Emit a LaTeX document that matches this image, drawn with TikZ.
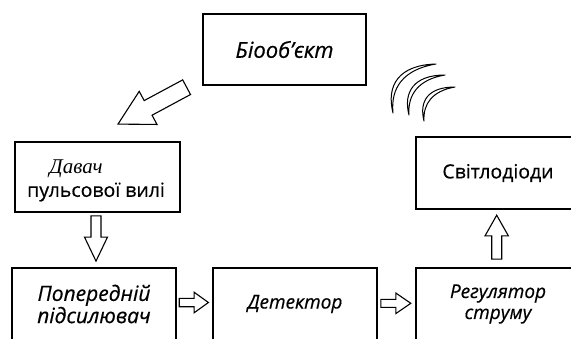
\documentclass[tikz,border=0pt]{standalone}
\usepackage{fontspec}
\setmainfont{Open Sans}[FakeBold=0.5]
\newfontfamily\serifit{Liberation Serif}
\usetikzlibrary{calc}
\tikzset{
  blk/.style={draw, line width=1.8pt, rectangle, inner sep=0pt, align=center,
    font=\itshape\fontsize{19}{21}\selectfont},
  harrow/.style={draw, line width=1.1pt, fill=white, line join=miter},
  wave/.style={draw, line width=1pt, fill=white, line join=round},
  lbl/.style={inner sep=0pt}
}
\newcommand{\hollowarrow}[5]{%
  \coordinate (hS) at (#1);
  \coordinate (hE) at (#2);
  \coordinate (hH) at ($(hE)!#5!(hS)$);
  \draw[harrow] ($(hS)!#3!90:(hE)$) -- ($(hH)!#3!-90:(hS)$) -- ($(hH)!#4!-90:(hS)$)
    -- (hE) -- ($(hH)!#4!90:(hS)$) -- ($(hH)!#3!90:(hS)$) -- ($(hS)!#3!-90:(hE)$) -- cycle;}
\begin{document}
\begin{tikzpicture}[x=1pt,y=-1pt]
\useasboundingbox (0,0) rectangle (571,338);
\clip (0,0) rectangle (571,338);
% boxes
\node[blk, minimum width=163pt, minimum height=71pt, font=\itshape\fontsize{22}{24}\selectfont] (bio) at (284.5,49.5) {Біооб'єкт};
\node[blk, minimum width=165pt, minimum height=70pt] (dav) at (97.5,177) {};
\node[lbl, font=\serifit\itshape\fontsize{21}{23}\selectfont] (davA) at (76,169) {Давач};
\node[lbl, font=\fontsize{19.5}{21}\selectfont] (davB) at (96,192) {пульсової вилі};
\node[blk, minimum width=164pt, minimum height=72pt, font=\itshape\fontsize{21}{20}\selectfont] (prep) at (94,304) {Попередній\\підсилювач};
\node[blk, minimum width=164pt, minimum height=72pt] (det) at (295,304) {\raisebox{3pt}{Детектор}};
\node[blk, minimum width=164pt, minimum height=72pt] (reg) at (498,304) {Регулятор\\струму};
\node[blk, minimum width=164pt, minimum height=72pt, font=\fontsize{19.5}{22}\selectfont] (svit) at (498,173) {\raisebox{3pt}{Світлодіоди}};
% block arrows
\hollowarrow{$(bio.south west)+(-15.5,1.3)$}{$(dav.north)+(20.5,-17)$}{8.3pt}{18.8pt}{34.2pt}
\hollowarrow{$(dav.south)+(-1.5,3)$}{$(prep.north)+(2,-6)$}{5pt}{11.5pt}{24pt}
\hollowarrow{$(prep.east)+(2.3,-1.5)$}{$(det.west)+(-3.7,-1.5)$}{4.2pt}{10.3pt}{14.3pt}
\hollowarrow{$(det.east)+(3,-0.7)$}{$(reg.west)+(-4.3,-0.7)$}{4pt}{10.3pt}{15pt}
\hollowarrow{$(reg.north)+(-1.3,-8)$}{$(svit.south)+(-1.3,5.3)$}{5pt}{11.7pt}{20.7pt}
% waves
\draw[wave] (393,113) .. controls (386,85) and (399,65) .. (436,64)
  .. controls (403,69.5) and (390.5,88) .. (393,113) -- cycle;
\draw[wave] (409,115) .. controls (403,92) and (414,75) .. (445,75)
  .. controls (418,79.5) and (407.5,95) .. (409,115) -- cycle;
\draw[wave] (424,121) .. controls (419,101) and (428,87) .. (455,87)
  .. controls (432,91) and (423,104) .. (424,121) -- cycle;
\end{tikzpicture}
\end{document}
